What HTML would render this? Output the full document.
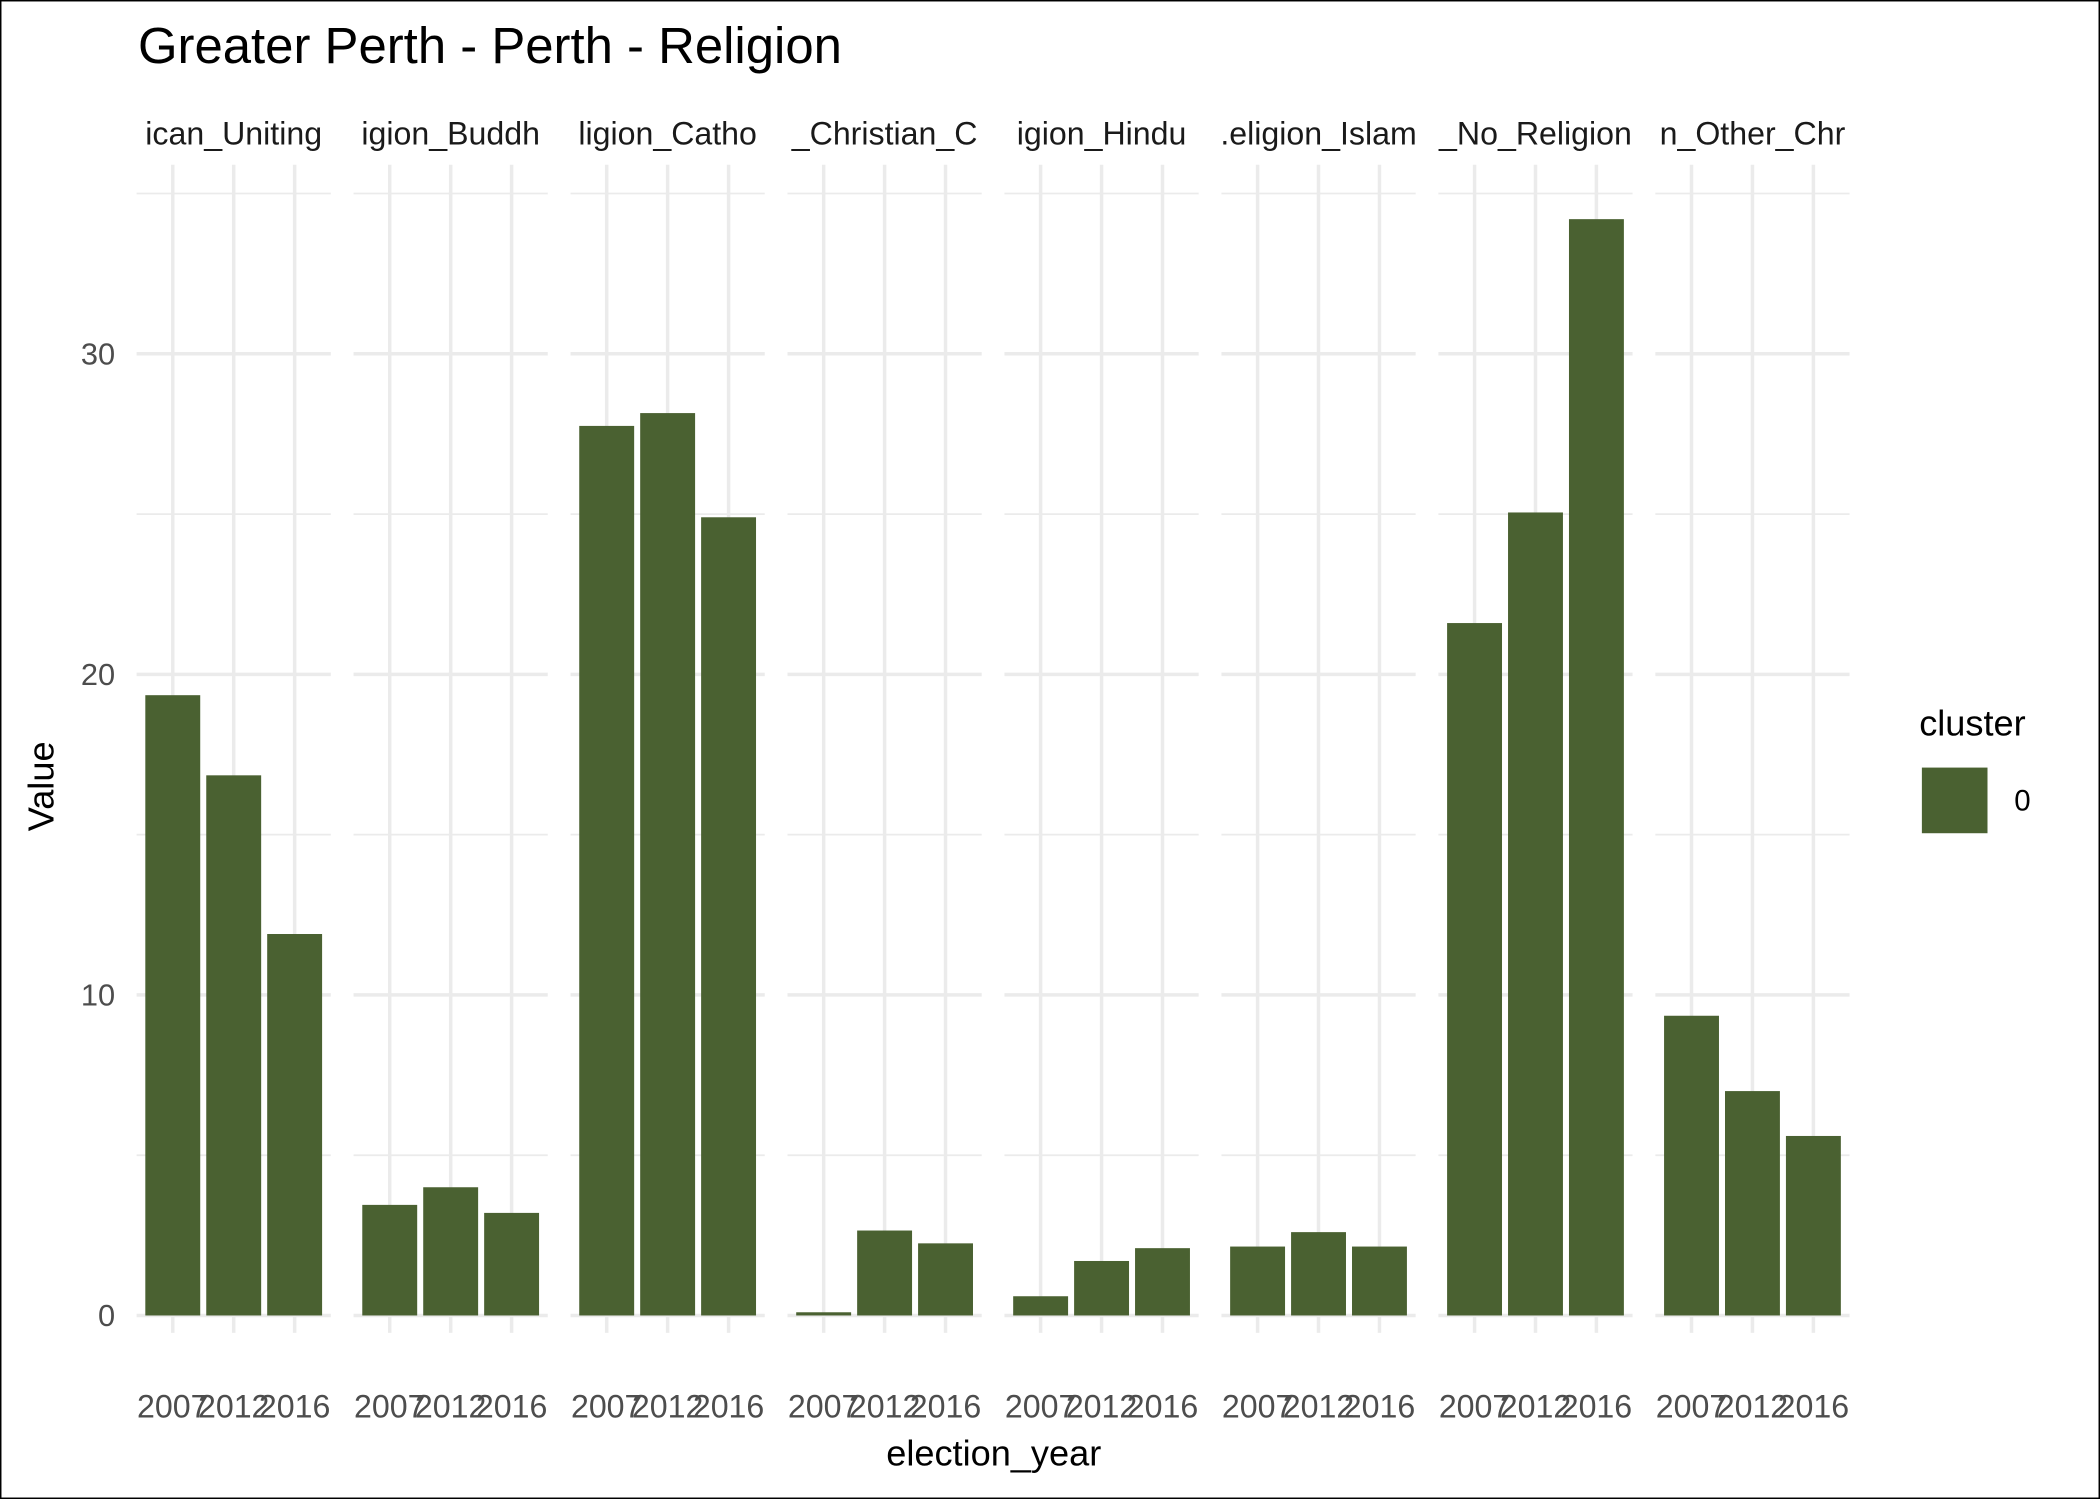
<!DOCTYPE html>
<html><head><meta charset="utf-8"><style>
html,body{margin:0;padding:0;background:#fff;}
svg{display:block;font-family:"Liberation Sans",Arial,sans-serif;}
</style></head><body>
<svg id="chart" width="2100" height="1499" viewBox="0 0 1568 1119" preserveAspectRatio="none">
<rect x="0.5" y="0.5" width="1567" height="1118" fill="#fff" stroke="#000" stroke-width="1.2"/>
<text x="103" y="47" font-size="38" fill="#000">Greater Perth - Perth - Religion</text>
<g id="panels"></g>
<text transform="translate(40,587) rotate(-90)" text-anchor="middle" font-size="27" fill="#000">Value</text>
<text x="742" y="1094" text-anchor="middle" font-size="27" fill="#000">election_year</text>
<g>
<text x="1433" y="549" font-size="27" fill="#000">cluster</text>
<rect x="1435" y="573" width="49" height="49" fill="#4a6131"/>
<text x="1504" y="605" font-size="22" fill="#000">0</text>
</g>
</svg>
<script>
const panelLabels = ["ican_Uniting","igion_Buddh","ligion_Catho","_Christian_C","igion_Hindu",".eligion_Islam","_No_Religion","n_Other_Chr"];
const years = ["2007","2012","2016"];
const series2007 = [19.35, 3.45, 27.75, 0.1, 0.6, 2.15, 21.6, 9.35];
const series2012 = [16.85, 4.0, 28.15, 2.65, 1.7, 2.6, 25.05, 7.0];
const series2016 = [11.9, 3.2, 24.9, 2.25, 2.1, 2.15, 34.2, 5.6];
const yTicks = [0, 10, 20, 30];
const yMinor = [5, 15, 25, 35];

const NS = "http://www.w3.org/2000/svg";
const g = document.getElementById("panels");
const svg = document.getElementById("chart");
const y0 = 982, pxPerUnit = 23.93;
function yScale(v){ return y0 - v * pxPerUnit; }
function panelX(i){ return 102 + i * 162; }
function xScale(p, j){ return panelX(p) + 27 + j * 45.5; }
function mk(tag, attrs){ const e = document.createElementNS(NS, tag); for (const k in attrs) e.setAttribute(k, attrs[k]); return e; }
const defs = mk("defs", {}); svg.insertBefore(defs, svg.firstChild);
const allSeries = [series2007, series2012, series2016];

yTicks.forEach(t => {
  const tx = mk("text", {x: 86, y: yScale(t) + 8, "text-anchor": "end", "font-size": 23, fill: "#4d4d4d"});
  tx.textContent = t;
  
  
  g.appendChild(tx);
});

panelLabels.forEach((lab, p) => {
  const px = panelX(p);
  const pg = mk("g", {});
  
  
  yMinor.forEach(t => {
    const l = mk("line", {x1: px, x2: px + 145, y1: yScale(t), y2: yScale(t), stroke: "#ebebeb", "stroke-width": 1.3});
    
    
    pg.appendChild(l);
  });
  yTicks.forEach(t => {
    const l = mk("line", {x1: px, x2: px + 145, y1: yScale(t), y2: yScale(t), stroke: "#ebebeb", "stroke-width": 2.6});
    
    
    pg.appendChild(l);
  });
  years.forEach((yr, j) => {
    const l = mk("line", {x1: xScale(p, j), x2: xScale(p, j), y1: 123, y2: 995, stroke: "#ebebeb", "stroke-width": 2.6});
    
    
    pg.appendChild(l);
  });
  years.forEach((yr, j) => {
    const v = allSeries[j][p];
    const r = mk("rect", {x: xScale(p, j) - 20.5, y: yScale(v), width: 41, height: y0 - yScale(v), fill: "#4a6131"});
    
    
    pg.appendChild(r);
    const t = mk("text", {x: xScale(p, j), y: 1058, "text-anchor": "middle", "font-size": 24, fill: "#4d4d4d"});
    t.textContent = yr;
    
    
    pg.appendChild(t);
  });
  const cp = mk("clipPath", {id: "clip" + p});
  cp.appendChild(mk("rect", {x: px - 2, y: 80, width: 149, height: 40}));
  defs.appendChild(cp);
  const st = mk("text", {x: px + 72.5, y: 108, "text-anchor": "middle", "font-size": 24, fill: "#1a1a1a", "clip-path": "url(#clip" + p + ")"});
  st.textContent = lab;
  
  
  pg.appendChild(st);
  g.appendChild(pg);
});
</script>
</body></html>
